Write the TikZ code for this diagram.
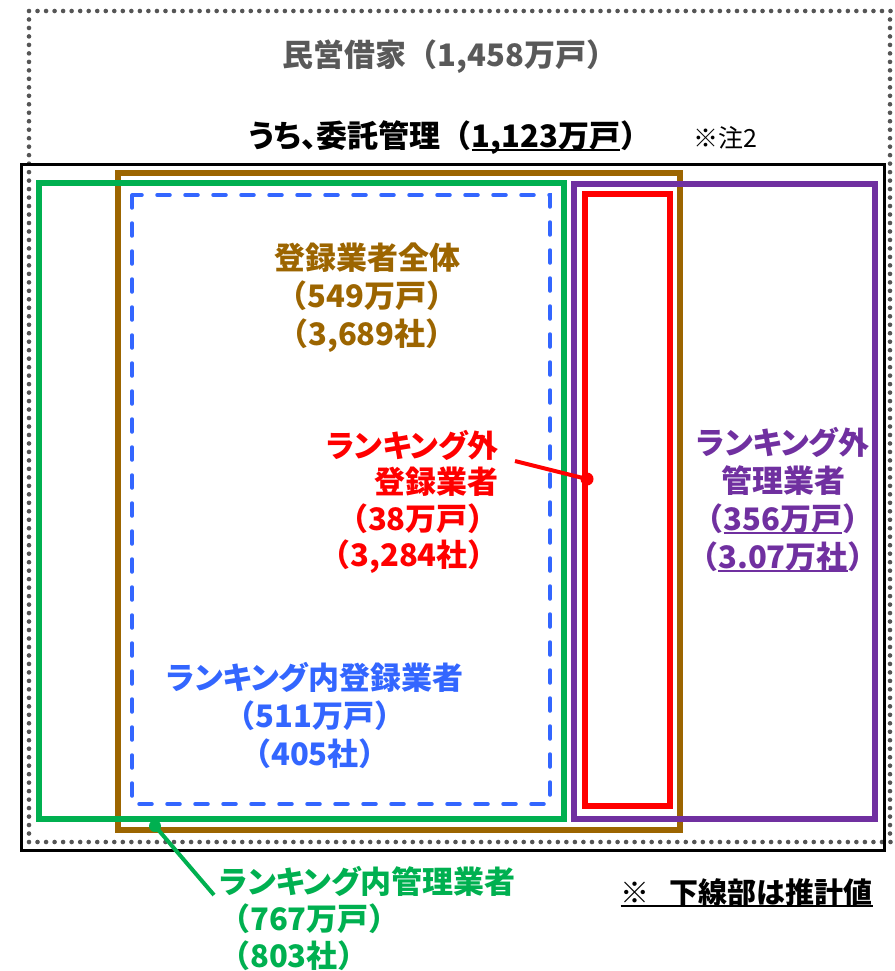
\documentclass[tikz,border=0pt]{standalone}
\usepackage{fontspec}
\setmainfont{Noto Sans CJK JP}
\definecolor{cbrown}{HTML}{9C6500}
\definecolor{cgreen}{HTML}{00B050}
\definecolor{cblue}{HTML}{3366FF}
\definecolor{cpurple}{HTML}{7030A0}
\definecolor{cred}{HTML}{FF0000}
\definecolor{cgray}{HTML}{595959}
\definecolor{cdot}{HTML}{555555}
\newcommand\myul[1]{\setbox0\hbox{#1}\rlap{\rule[-3.5pt]{\wd0}{2.5pt}}\box0}
\newcommand\kana[1]{{\addfontfeatures{RawFeature=+palt}#1}}
\begin{document}
\begin{tikzpicture}[x=1pt,y=-1pt,
  dotmark/.style={fill=cdot},
  frame/.style={draw=black,line width=3pt},
  thickbox/.style={line width=6pt},
  dashbox/.style={draw=cblue,line width=3.5pt,line cap=round,dash pattern=on 13pt off 15pt},
  lbl/.style={inner sep=0pt,font=\fontsize{31}{38}\selectfont\bfseries},
  dotnode/.style={circle,inner sep=0pt,minimum size=13pt},
  pointer/.style={line width=4pt}]
\useasboundingbox (0,0) rectangle (894,971);
% dotted outer box (drawn as dots)
\foreach \i in {0,...,101} {
  \fill[dotmark] ({29+\i*8.5297},11) circle (2.3);
  \fill[dotmark] ({29+\i*8.5297},842) circle (2.3);
}
\foreach \i in {1,...,97} {
  \fill[dotmark] (29,{11+\i*8.4796}) circle (2.3);
  \fill[dotmark] (890,{11+\i*8.4796}) circle (2.3);
}
% boxes
\draw[frame] (21,164) rectangle (884,850);
\draw[thickbox,draw=cbrown] (118,173) rectangle (680,830);
\draw[thickbox,draw=cgreen] (39,183) rectangle (564,819);
\draw[dashbox] (132,195) rectangle (550,804);
\draw[thickbox,draw=cpurple] (574,184) rectangle (875,819);
\draw[thickbox,draw=cred] (585,194) rectangle (670,806);
% titles
\node[lbl,text=cgray] (title) at (450,57) {民営借家（1,458万戸）};
\node[lbl,text=black] (sub) at (450,138) {\kana{うち、}委託管理（\myul{1,123万戸}）};
\node[inner sep=0pt,anchor=west,font=\fontsize{25}{30}\selectfont] (note2) at (693,138) {※注2};
% labels
\node[lbl,text=cbrown,align=center] (all) at (367,298) {登録業者全体\\（549万戸）\\（3,689社）};
\node[lbl,text=cred,align=right,anchor=east,font=\fontsize{31}{36.5}\selectfont\bfseries] (outreg) at (499,502) {\kana{ランキング}外\\登録業者\\（38万戸）\\（3,284社）};
\node[lbl,text=cpurple,align=center] (outman) at (783,500) {\kana{ランキング}外\\管理業者\\（\myul{356万戸}）\\（\myul{3.07万社}）};
\node[lbl,text=cblue,align=center] (inreg) at (315,715) {\kana{ランキング}内登録業者\\（511万戸）\\（405社）};
\node[lbl,text=cgreen,align=left,anchor=west,font=\fontsize{31}{37}\selectfont\bfseries] (inman) at (219,918) {\kana{ランキング}内管理業者\\（767万戸）\\（803社）};
\node[lbl,text=black,anchor=east,font=\fontsize{29}{34}\selectfont\bfseries] (est) at (873,893) {\myul{※\hspace{0.7em}下線部は推計値}};
% pointers
\node[dotnode,fill=cred] (rdot) at (587,479) {};
\coordinate (rfree) at (515,461);
\draw[pointer,draw=cred] (rfree) -- (rdot.center);
\node[dotnode,fill=cgreen,minimum size=12pt] (gdot) at (155,826) {};
\coordinate (gfree) at (214,895);
\draw[pointer,draw=cgreen] (gdot.center) -- (gfree);
\end{tikzpicture}
\end{document}
